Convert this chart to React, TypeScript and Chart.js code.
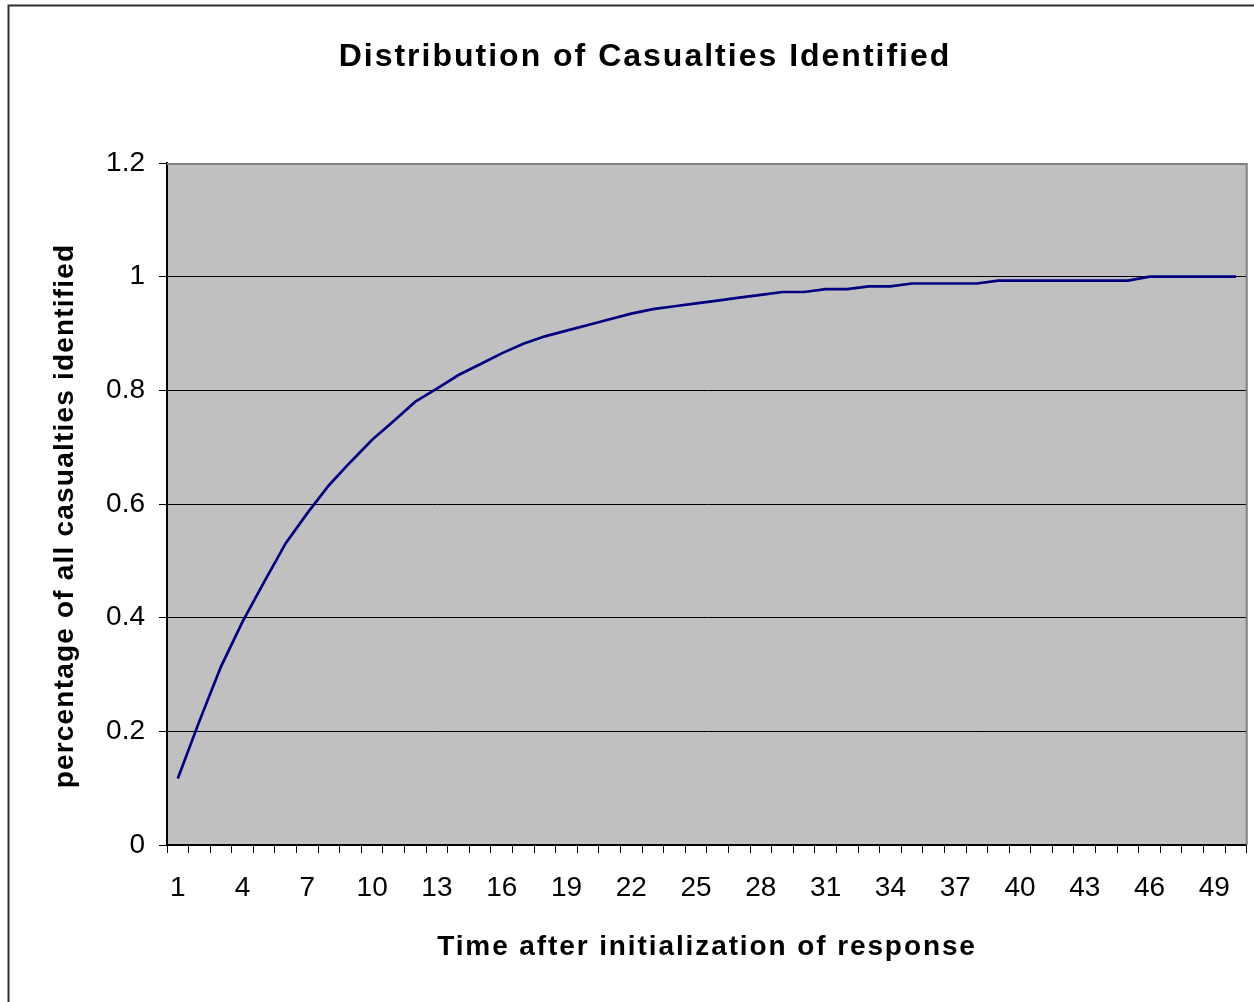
import { useEffect, useRef } from "react";
import { Chart, registerables } from "chart.js";

Chart.register(...registerables);

const categories = [
  "1", "2", "3", "4", "5", "6", "7", "8", "9", "10",
  "11", "12", "13", "14", "15", "16", "17", "18", "19", "20",
  "21", "22", "23", "24", "25", "26", "27", "28", "29", "30",
  "31", "32", "33", "34", "35", "36", "37", "38", "39", "40",
  "41", "42", "43", "44", "45", "46", "47", "48", "49", "50",
];

const identifiedShare = [
  0.117, 0.218, 0.314, 0.393, 0.463, 0.531, 0.584, 0.633, 0.674, 0.713,
  0.746, 0.78, 0.803, 0.827, 0.846, 0.865, 0.882, 0.895, 0.905, 0.915,
  0.925, 0.935, 0.943, 0.948, 0.953, 0.958, 0.963, 0.968, 0.973, 0.973,
  0.978, 0.978, 0.983, 0.983, 0.988, 0.988, 0.988, 0.988, 0.993, 0.993,
  0.993, 0.993, 0.993, 0.993, 0.993, 1.0, 1.0, 1.0, 1.0, 1.0,
];

const chartTitle = "Distribution of Casualties Identified";
const xAxisTitle = "Time after initialization of response";
const yAxisTitle = "percentage of all casualties identified";
const yMin = 0;
const yMax = 1.2;
const yStep = 0.2;
const xLabelEvery = 3;

const FONT = '"Liberation Sans", Arial, Helvetica, sans-serif';

export default function App() {
  const canvasRef = useRef<HTMLCanvasElement | null>(null);

  useEffect(() => {
    const canvas = canvasRef.current;
    if (!canvas) return;

    const decorPlugin = {
      id: "decor",
      beforeDraw(chart: any) {
        const { ctx, chartArea } = chart;
        ctx.save();
        ctx.fillStyle = "#ffffff";
        ctx.fillRect(0, 0, chart.width, chart.height);
        ctx.fillStyle = "#C0C0C0";
        ctx.fillRect(
          chartArea.left,
          chartArea.top,
          chartArea.right - chartArea.left,
          chartArea.bottom - chartArea.top
        );
        ctx.restore();
      },
      afterDraw(chart: any) {
        const { ctx, chartArea } = chart;
        ctx.save();
        // plot area border (top / right)
        ctx.strokeStyle = "#808080";
        ctx.lineWidth = 2;
        ctx.beginPath();
        ctx.moveTo(chartArea.left, chartArea.top + 1);
        ctx.lineTo(chartArea.right, chartArea.top + 1);
        ctx.lineTo(chartArea.right, chartArea.bottom);
        ctx.stroke();

        // outer chart border
        ctx.strokeStyle = "#303030";
        ctx.lineWidth = 2;
        ctx.beginPath();
        ctx.moveTo(8.5, chart.height);
        ctx.lineTo(8.5, 5.5);
        ctx.lineTo(chart.width, 5.5);
        ctx.stroke();

        ctx.fillStyle = "#000000";
        // chart title
        ctx.font = `bold 32px ${FONT}`;
        (ctx as any).letterSpacing = "2px";
        ctx.textAlign = "center";
        ctx.textBaseline = "alphabetic";
        ctx.fillText(chartTitle, 645, 66);

        // x axis title
        ctx.font = `bold 28px ${FONT}`;
        (ctx as any).letterSpacing = "1.9px";
        ctx.fillText(xAxisTitle, 707, 955);

        // y axis title
        (ctx as any).letterSpacing = "1.2px";
        ctx.translate(73, 516);
        ctx.rotate(-Math.PI / 2);
        ctx.fillText(yAxisTitle, 0, 0);
        ctx.restore();
      },
    };

    const chart = new Chart(canvas, {
      type: "line",
      data: {
        labels: categories,
        datasets: [
          {
            data: identifiedShare,
            borderColor: "#000080",
            borderWidth: 2.7,
            pointRadius: 0,
            pointHoverRadius: 0,
            tension: 0,
            fill: false,
          },
        ],
      },
      options: {
        responsive: false,
        animation: false,
        events: [],
        layout: { padding: { top: 163, left: 0, right: 5.5, bottom: 0 } },
        plugins: {
          legend: { display: false },
          title: { display: false },
          tooltip: { enabled: false },
        },
        scales: {
          x: {
            type: "category",
            offset: true,
            afterFit(scale: any) {
              scale.height = 157;
            },
            grid: {
              display: true,
              offset: true,
              drawOnChartArea: false,
              drawTicks: true,
              tickLength: 8,
              tickColor: "#000000",
              tickWidth: 1,
            },
            border: { display: true, color: "#000000", width: 2 },
            ticks: {
              autoSkip: false,
              maxRotation: 0,
              minRotation: 0,
              padding: 18,
              color: "#000000",
              font: { family: FONT, size: 28 },
              callback: (_v: any, index: number) =>
                index % xLabelEvery === 0 ? categories[index] : "",
            },
          },
          y: {
            min: yMin,
            max: yMax,
            afterFit(scale: any) {
              scale.width = 167;
            },
            grid: {
              display: true,
              color: "#000000",
              lineWidth: 1,
              drawTicks: true,
              tickLength: 8,
              tickColor: "#000000",
            },
            border: { display: true, color: "#000000", width: 2 },
            ticks: {
              stepSize: yStep,
              padding: 14,
              color: "#000000",
              font: { family: FONT, size: 28 },
              callback: (v: any) => String(Math.round(Number(v) * 10) / 10),
            },
          },
        },
      },
      plugins: [decorPlugin],
    });

    return () => {
      chart.destroy();
    };
  }, []);

  return (
    <div style={{ position: "absolute", left: 0, top: 0, width: 1254, height: 1002 }}>
      <canvas ref={canvasRef} width={1254} height={1002} style={{ display: "block" }} />
    </div>
  );
}
